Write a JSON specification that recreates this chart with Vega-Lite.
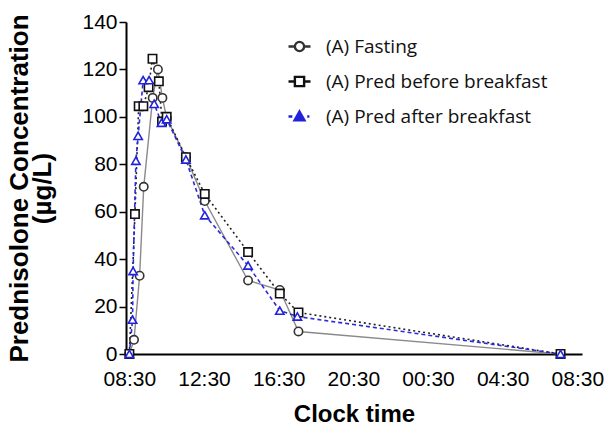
{
  "$schema": "https://vega.github.io/schema/vega-lite/v6.json",
  "width": 456,
  "height": 332,
  "autosize": "none",
  "padding": {"left": 126, "top": 22, "right": 29, "bottom": 71},
  "background": "white",
  "config": {"view": {"stroke": null}},
  "data": {"values": [
    {"series": "(A) Fasting", "t": 0, "conc": 0},
    {"series": "(A) Fasting", "t": 0.25, "conc": 6},
    {"series": "(A) Fasting", "t": 0.55, "conc": 33},
    {"series": "(A) Fasting", "t": 0.77, "conc": 70.5},
    {"series": "(A) Fasting", "t": 1.25, "conc": 108},
    {"series": "(A) Fasting", "t": 1.53, "conc": 120},
    {"series": "(A) Fasting", "t": 1.77, "conc": 108},
    {"series": "(A) Fasting", "t": 2.0, "conc": 99.5},
    {"series": "(A) Fasting", "t": 3.03, "conc": 83},
    {"series": "(A) Fasting", "t": 4.04, "conc": 64.5},
    {"series": "(A) Fasting", "t": 6.36, "conc": 31},
    {"series": "(A) Fasting", "t": 8.06, "conc": 27},
    {"series": "(A) Fasting", "t": 9.06, "conc": 9.5},
    {"series": "(A) Fasting", "t": 23.1, "conc": 0},
    {"series": "(A) Pred before breakfast", "t": 0, "conc": 0},
    {"series": "(A) Pred before breakfast", "t": 0.3, "conc": 59},
    {"series": "(A) Pred before breakfast", "t": 0.5, "conc": 104.5},
    {"series": "(A) Pred before breakfast", "t": 0.75, "conc": 104.5},
    {"series": "(A) Pred before breakfast", "t": 1.03, "conc": 112.5},
    {"series": "(A) Pred before breakfast", "t": 1.24, "conc": 124.5},
    {"series": "(A) Pred before breakfast", "t": 1.58, "conc": 115},
    {"series": "(A) Pred before breakfast", "t": 1.75, "conc": 98},
    {"series": "(A) Pred before breakfast", "t": 2.0, "conc": 100},
    {"series": "(A) Pred before breakfast", "t": 3.03, "conc": 83},
    {"series": "(A) Pred before breakfast", "t": 4.04, "conc": 67.5},
    {"series": "(A) Pred before breakfast", "t": 6.36, "conc": 43},
    {"series": "(A) Pred before breakfast", "t": 8.06, "conc": 25.5},
    {"series": "(A) Pred before breakfast", "t": 9.06, "conc": 17.5},
    {"series": "(A) Pred before breakfast", "t": 23.1, "conc": 0},
    {"series": "(A) Pred after breakfast", "t": 0, "conc": 0},
    {"series": "(A) Pred after breakfast", "t": 0.17, "conc": 14.5},
    {"series": "(A) Pred after breakfast", "t": 0.2, "conc": 35},
    {"series": "(A) Pred after breakfast", "t": 0.35, "conc": 81.5},
    {"series": "(A) Pred after breakfast", "t": 0.47, "conc": 92},
    {"series": "(A) Pred after breakfast", "t": 0.74, "conc": 115.5},
    {"series": "(A) Pred after breakfast", "t": 1.06, "conc": 115.5},
    {"series": "(A) Pred after breakfast", "t": 1.33, "conc": 105.5},
    {"series": "(A) Pred after breakfast", "t": 1.72, "conc": 97.5},
    {"series": "(A) Pred after breakfast", "t": 2.0, "conc": 99},
    {"series": "(A) Pred after breakfast", "t": 3.03, "conc": 82},
    {"series": "(A) Pred after breakfast", "t": 4.04, "conc": 58.5},
    {"series": "(A) Pred after breakfast", "t": 6.36, "conc": 37.3},
    {"series": "(A) Pred after breakfast", "t": 8.06, "conc": 18.3},
    {"series": "(A) Pred after breakfast", "t": 9.0, "conc": 15.8},
    {"series": "(A) Pred after breakfast", "t": 23.1, "conc": 0}
  ]},
  "encoding": {
    "x": {
      "field": "t", "type": "quantitative",
      "scale": {"domain": [-0.18, 24.25], "nice": false, "zero": false},
      "axis": {
        "values": [0, 4, 8, 12, 16, 20, 24],
        "labelExpr": "datum.value == 0 ? '08:30' : datum.value == 4 ? '12:30' : datum.value == 8 ? '16:30' : datum.value == 12 ? '20:30' : datum.value == 16 ? '00:30' : datum.value == 20 ? '04:30' : '08:30'",
        "title": "Clock time",
        "grid": false,
        "ticks": false,
        "domainColor": "black",
        "domainWidth": 2,
        "labelFont": "Liberation Sans",
        "labelFontSize": 21,
        "labelColor": "black",
        "labelPadding": 14,
        "labelFlush": false,
        "titleFont": "Liberation Sans",
        "titleFontSize": 24,
        "titleFontWeight": "bold",
        "titleColor": "black",
        "titlePadding": 13
      }
    },
    "y": {
      "field": "conc", "type": "quantitative",
      "scale": {"domain": [0, 140], "nice": false},
      "axis": {
        "values": [0, 20, 40, 60, 80, 100, 120, 140],
        "title": ["Prednisolone Concentration", "(µg/L)"],
        "grid": false,
        "domainColor": "black",
        "domainWidth": 2,
        "tickColor": "black",
        "tickWidth": 1.5,
        "tickSize": 7,
        "labelFont": "Liberation Sans",
        "labelFontSize": 21,
        "labelColor": "black",
        "labelPadding": 2,
        "titleFont": "Liberation Sans",
        "titleFontSize": 26,
        "titleFontWeight": "bold",
        "titleColor": "black",
        "titlePadding": 26,
        "titleLineHeight": 23
      }
    }
  },
  "layer": [
    {
      "transform": [{"filter": "datum.series == '(A) Fasting'"}],
      "mark": {"type": "line", "strokeWidth": 1.4, "color": "#8a8a8a"},
      "encoding": {}
    },
    {
      "transform": [{"filter": "datum.series == '(A) Pred before breakfast'"}],
      "mark": {"type": "line", "strokeWidth": 1.6, "color": "#222222", "strokeDash": [2, 3]},
      "encoding": {}
    },
    {
      "transform": [{"filter": "datum.series == '(A) Pred after breakfast'"}],
      "mark": {"type": "line", "strokeWidth": 1.6, "color": "#2a2ad8", "strokeDash": [4, 3]},
      "encoding": {}
    },
    {
      "transform": [{"filter": "datum.series == '(A) Fasting'"}],
      "mark": {"type": "point", "shape": "circle", "filled": false, "fill": "white", "fillOpacity": 1, "stroke": "#333333", "strokeWidth": 1.6, "size": 70, "opacity": 1}
    },
    {
      "transform": [{"filter": "datum.series == '(A) Pred before breakfast'"}],
      "mark": {"type": "point", "shape": "square", "filled": false, "fill": "white", "fillOpacity": 1, "stroke": "#111111", "strokeWidth": 1.6, "size": 70, "opacity": 1}
    },
    {
      "transform": [{"filter": "datum.series == '(A) Pred after breakfast'"}],
      "mark": {"type": "point", "shape": "triangle-up", "filled": false, "fill": "white", "fillOpacity": 1, "stroke": "#2222dd", "strokeWidth": 1.6, "size": 70, "opacity": 1}
    },
    {
      "mark": {"type": "point", "filled": true, "opacity": 0, "strokeWidth": 2},
      "encoding": {
        "stroke": {
          "field": "series", "type": "nominal",
          "scale": {"domain": ["(A) Fasting", "(A) Pred before breakfast", "(A) Pred after breakfast"], "range": ["#333333", "#111111", "#2222dd"]},
          "legend": {
            "title": null, "orient": "none", "legendX": 161, "legendY": 12,
            "labelFont": "Open Sans", "labelFontSize": 19, "labelColor": "#111111", "labelLimit": 400,
            "symbolSize": 484, "symbolStrokeWidth": 2.4, "symbolOpacity": 1,
            "rowPadding": 12, "labelOffset": 14
          }
        },
        "fill": {
          "field": "series", "type": "nominal",
          "scale": {"domain": ["(A) Fasting", "(A) Pred before breakfast", "(A) Pred after breakfast"], "range": ["#ffffff", "#ffffff", "#2222dd"]},
          "legend": {
            "title": null, "orient": "none", "legendX": 161, "legendY": 12,
            "labelFont": "Open Sans", "labelFontSize": 19, "labelColor": "#111111", "labelLimit": 400,
            "symbolSize": 484, "symbolStrokeWidth": 2.4, "symbolOpacity": 1,
            "rowPadding": 12, "labelOffset": 14
          }
        },
        "shape": {
          "field": "series", "type": "nominal",
          "scale": {"domain": ["(A) Fasting", "(A) Pred before breakfast", "(A) Pred after breakfast"], "range": [
            "M-1,0H-0.42M0.42,0H1M-0.42,0A0.42,0.42,0,1,1,0.42,0A0.42,0.42,0,1,1,-0.42,0Z",
            "M-1,0H-0.42M0.42,0H1M-0.42,-0.42H0.42V0.42H-0.42Z",
            "M-1,0H-0.65M0.7,0H0.9M0,-0.45L0.45,0.35H-0.45Z"
          ]},
          "legend": {
            "title": null, "orient": "none", "legendX": 161, "legendY": 12,
            "labelFont": "Open Sans", "labelFontSize": 19, "labelColor": "#111111", "labelLimit": 400,
            "symbolSize": 484, "symbolStrokeWidth": 2.4, "symbolOpacity": 1,
            "rowPadding": 12, "labelOffset": 14
          }
        }
      }
    }
  ]
}
